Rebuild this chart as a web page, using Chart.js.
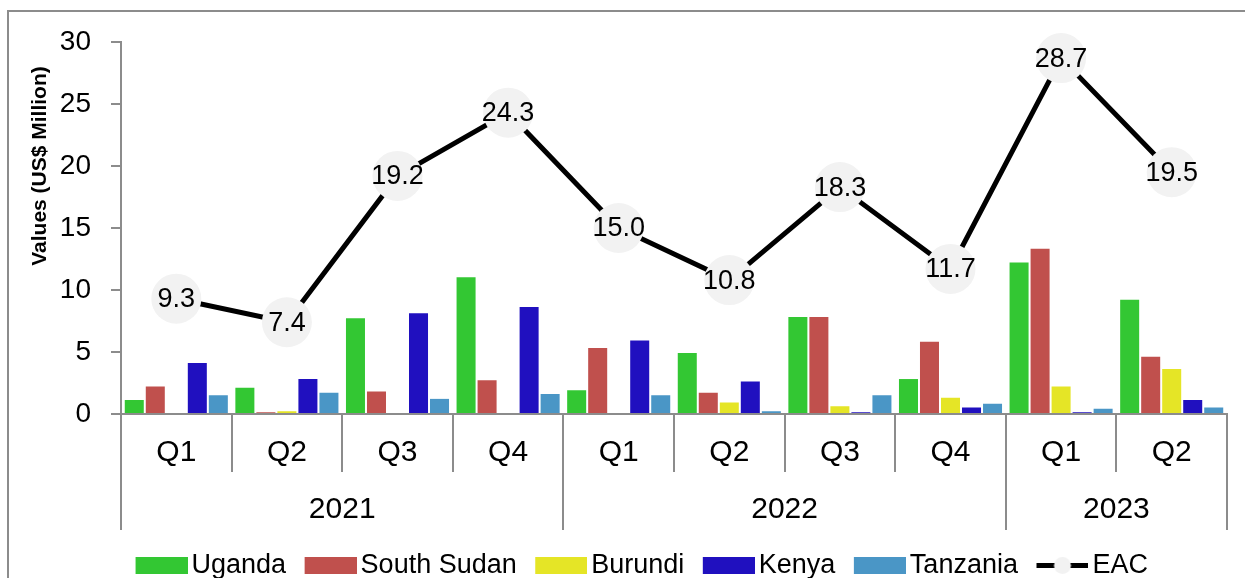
<!DOCTYPE html>
<html>
<head>
<meta charset="utf-8">
<script src="https://cdn.jsdelivr.net/npm/chart.js@4.4.1/dist/chart.umd.min.js"></script>
<style>
  html, body { margin: 0; padding: 0; background: #fff; overflow: hidden; }
  #frame { position: absolute; left: 7px; top: 10px; width: 1300px; height: 700px; border: 2px solid #8c8c8c; box-sizing: border-box; }
  #wrap { position: absolute; left: 0; top: 0; width: 1245px; height: 578px; }
</style>
</head>
<body>
<div id="frame"></div>
<div id="wrap"><canvas id="chart"></canvas></div>
<script>
// values (US$ million)
const quarters = ['Q1', 'Q2', 'Q3', 'Q4', 'Q1', 'Q2', 'Q3', 'Q4', 'Q1', 'Q2'];
const years = ['2021', '2022', '2023'];
const yearSpans = [4, 4, 2];
const uganda     = [1.2, 2.2, 7.8, 11.1, 2.0, 5.0, 7.9, 2.9, 12.3, 9.3];
const southSudan = [2.3, 0.2, 1.9, 2.8, 5.4, 1.8, 7.9, 5.9, 13.4, 4.7];
const burundi    = [0, 0.3, 0, 0, 0, 1.0, 0.7, 1.4, 2.3, 3.7];
const kenya      = [4.2, 2.9, 8.2, 8.7, 6.0, 2.7, 0.2, 0.6, 0.2, 1.2];
const tanzania   = [1.6, 1.8, 1.3, 1.7, 1.6, 0.3, 1.6, 0.9, 0.5, 0.6];
const eac        = [9.3, 7.4, 19.2, 24.3, 15.0, 10.8, 18.3, 11.7, 28.7, 19.5];
const yTicks = [0, 5, 10, 15, 20, 25, 30];

const FONT = "'Liberation Sans', Arial, sans-serif";
const AXIS = '#8c8c8c';
const colors = ['#33c733', '#c0504d', '#e5e526', '#2010bf', '#4a96c6'];

// legend swatches (transparent left part just shifts the box next to its text)
function swatch(color) {
  const c = document.createElement('canvas');
  c.width = 70; c.height = 17;
  const g = c.getContext('2d');
  g.fillStyle = color;
  g.fillRect(18, 0, 52, 17);
  return c;
}
function lineSwatch() {
  const c = document.createElement('canvas');
  c.width = 70; c.height = 17;
  const g = c.getContext('2d');
  g.fillStyle = '#000';
  g.fillRect(18, 6, 52, 5);
  g.fillStyle = '#f2f2f2';
  g.beginPath(); g.arc(44, 8.5, 8.5, 0, Math.PI * 2); g.fill();
  return c;
}
const swatches = colors.map(swatch).concat([lineSwatch()]);

function bar(label, data, i) {
  return {
    type: 'bar', label: label, data: data, order: 1,
    backgroundColor: colors[i], borderColor: 'rgba(255,255,255,0.6)', borderWidth: 1,
    categoryPercentage: 0.95, barPercentage: 1
  };
}

// EAC values inside the circles
const eacLabels = {
  id: 'eacLabels',
  afterDatasetsDraw(chart) {
    const ctx = chart.ctx;
    const meta = chart.getDatasetMeta(5);
    ctx.save();
    ctx.font = '27px ' + FONT;
    ctx.fillStyle = '#000';
    ctx.textAlign = 'center';
    ctx.textBaseline = 'middle';
    meta.data.forEach((pt, i) => ctx.fillText(eac[i].toFixed(1), pt.x, pt.y + 1));
    ctx.restore();
  }
};

// year row + separators + y title
const axisExtras = {
  id: 'axisExtras',
  afterLayout(chart) {
    // legend sits a bit right of centre in the original
    chart.legend.left += 24;
    chart.legend.right += 24;
  },
  afterDraw(chart) {
    const ctx = chart.ctx;
    const x = chart.scales.x;
    const top = chart.chartArea.bottom;
    ctx.save();
    ctx.strokeStyle = AXIS;
    ctx.lineWidth = 2;
    ctx.fillStyle = '#000';
    ctx.font = '30px ' + FONT;
    ctx.textAlign = 'center';
    ctx.textBaseline = 'middle';
    let start = 0;
    const edges = [-0.5];
    yearSpans.forEach((n, k) => {
      const a = x.getPixelForValue(start - 0.5);
      const b = x.getPixelForValue(start + n - 0.5);
      ctx.fillText(years[k], (a + b) / 2, top + 96);
      start += n;
      edges.push(start - 0.5);
    });
    edges.forEach(v => {
      const px = Math.round(x.getPixelForValue(v));
      ctx.beginPath(); ctx.moveTo(px, top); ctx.lineTo(px, top + 116); ctx.stroke();
    });
    ctx.translate(40, 166);
    ctx.rotate(-Math.PI / 2);
    ctx.font = "bold 21px 'Liberation Sans', Arial, sans-serif";
    ctx.fillText('Values (US$ Million)', 0, 0);
    ctx.restore();
  }
};

const PAD_BOTTOM = -11;

new Chart(document.getElementById('chart'), {
  data: {
    labels: quarters,
    datasets: [
      bar('Uganda', uganda, 0),
      bar('South Sudan', southSudan, 1),
      bar('Burundi', burundi, 2),
      bar('Kenya', kenya, 3),
      bar('Tanzania', tanzania, 4),
      {
        type: 'line', label: 'EAC', data: eac, order: 0,
        borderColor: '#000', borderWidth: 5, tension: 0,
        pointRadius: 25, pointHoverRadius: 25, pointBackgroundColor: '#f2f2f2',
        pointBorderWidth: 0, pointHoverBorderWidth: 0, clip: false
      }
    ]
  },
  options: {
    responsive: true,
    maintainAspectRatio: false,
    animation: false,
    events: [],
    layout: { autoPadding: false, padding: { top: 42, right: 18, left: 0, bottom: PAD_BOTTOM } },
    scales: {
      x: {
        offset: true,
        border: { color: AXIS, width: 2 },
        grid: { offset: true, drawOnChartArea: false, tickLength: 58, color: AXIS, lineWidth: 2 },
        ticks: { font: { family: FONT, size: 30 }, color: '#000', padding: -37, maxRotation: 0, autoSkip: false },
        afterFit(s) {
          s.height = s.chart.height - PAD_BOTTOM - s.chart.legend.height - 414;
        }
      },
      y: {
        min: 0, max: 30,
        afterBuildTicks(s) { s.ticks = yTicks.map(v => ({ value: v })); },
        border: { color: AXIS, width: 2 },
        grid: { drawOnChartArea: false, tickLength: 10, color: AXIS, lineWidth: 2 },
        ticks: { font: { family: FONT, size: 28 }, color: '#000', padding: 20 },
        afterFit(s) { s.width = 121; }
      }
    },
    plugins: {
      tooltip: { enabled: false },
      legend: {
        position: 'bottom',
        labels: {
          usePointStyle: true,
          pointStyleWidth: 51,
          padding: 10,
          color: '#000',
          font: { family: FONT, size: 27, lineHeight: 1 },
          generateLabels(chart) {
            return chart.data.datasets.map((ds, i) => ({
              text: ds.label, datasetIndex: i, pointStyle: swatches[i],
              fillStyle: 'transparent', strokeStyle: 'transparent', lineWidth: 0,
              hidden: false, fontColor: '#000'
            }));
          }
        }
      }
    }
  },
  plugins: [eacLabels, axisExtras]
});
</script>
</body>
</html>
